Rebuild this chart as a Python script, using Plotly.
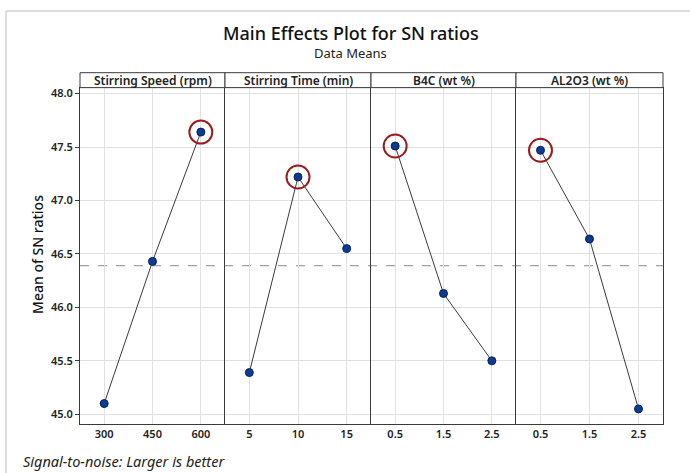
import plotly.graph_objects as go
from plotly.subplots import make_subplots

# ---- data ----
factor_names = ["Stirring Speed (rpm)", "Stirring Time (min)", "B4C (wt %)", "AL2O3 (wt %)"]
speed_levels = ["300", "450", "600"]
speed_sn = [45.10, 46.43, 47.64]
time_levels = ["5", "10", "15"]
time_sn = [45.39, 47.22, 46.55]
b4c_levels = ["0.5", "1.5", "2.5"]
b4c_sn = [47.51, 46.13, 45.50]
al2o3_levels = ["0.5", "1.5", "2.5"]
al2o3_sn = [47.47, 46.64, 45.05]
y_ticks = [45.0, 45.5, 46.0, 46.5, 47.0, 47.5, 48.0]

levels = [speed_levels, time_levels, b4c_levels, al2o3_levels]
values = [speed_sn, time_sn, b4c_sn, al2o3_sn]
grand_mean = sum(speed_sn) / len(speed_sn)

W, H = 690, 473
def px_x(p):
    return p / W
def px_y(p):
    return 1 - p / H

edges = [80, 225, 371, 516, 663]
ydom = [px_y(424), px_y(86)]
FONT = "Noto Sans"

fig = make_subplots(rows=1, cols=4, shared_yaxes=True, horizontal_spacing=0)

for i in range(4):
    xs = list(range(len(levels[i])))
    fig.add_trace(go.Scatter(
        x=xs, y=values[i], mode="lines+markers",
        line=dict(color="#3a3a3a", width=1),
        marker=dict(size=8, color="#0b3c91", line=dict(color="#0a1f5a", width=1)),
        showlegend=False, hoverinfo="skip"), row=1, col=i + 1)
    mi = max(range(len(values[i])), key=lambda k: values[i][k])
    fig.add_trace(go.Scatter(
        x=[xs[mi]], y=[values[i][mi]], mode="markers",
        marker=dict(size=23, symbol="circle-open", color="#9b1c1c", line=dict(color="#9b1c1c", width=2)),
        showlegend=False, hoverinfo="skip"), row=1, col=i + 1)

for i in range(4):
    xa = "xaxis" if i == 0 else f"xaxis{i+1}"
    ya = "yaxis" if i == 0 else f"yaxis{i+1}"
    fig.layout[xa].update(
        domain=[px_x(edges[i]), px_x(edges[i + 1])],
        range=[-0.5, 2.5], tickvals=[0, 1, 2], ticktext=levels[i],
        showgrid=True, gridcolor="#e1e1e1", gridwidth=1,
        showline=True, linecolor="#3a3a3a", linewidth=1, mirror=True,
        zeroline=False, ticks="", tickfont=dict(family=FONT, size=11, color="#222", weight=600),
        fixedrange=True)
    fig.layout[ya].update(
        domain=ydom, range=[44.907, 48.056], tickvals=y_ticks,
        tickformat=".1f", showgrid=True, gridcolor="#e1e1e1", gridwidth=1,
        showline=True, linecolor="#3a3a3a", linewidth=1, mirror=(i == 3),
        zeroline=False, fixedrange=True,
        ticks="outside" if i == 0 else "", ticklen=4, tickcolor="#3a3a3a",
        showticklabels=(i == 0),
        tickfont=dict(family=FONT, size=11, color="#222", weight=600))

shapes = []
# dashed grand mean line
shapes.append(dict(type="line", xref="paper", yref="y", x0=px_x(edges[0]), x1=px_x(edges[-1]),
                   y0=grand_mean, y1=grand_mean, line=dict(color="#8a8a8a", width=1, dash="dash"),
                   layer="below"))
# header boxes
for i in range(4):
    shapes.append(dict(type="rect", xref="paper", yref="paper",
                       x0=px_x(edges[i]), x1=px_x(edges[i + 1]), y0=px_y(86), y1=px_y(71),
                       line=dict(color="#3a3a3a", width=1), fillcolor="white"))
# outer frame lines
shapes.append(dict(type="line", xref="paper", yref="paper", x0=px_x(6), x1=1.0, y0=px_y(9), y1=px_y(9),
                   line=dict(color="#d2d2d2", width=1.5)))
shapes.append(dict(type="line", xref="paper", yref="paper", x0=px_x(6), x1=px_x(6), y0=0, y1=px_y(9),
                   line=dict(color="#d2d2d2", width=1.5)))

annotations = []
for i in range(4):
    annotations.append(dict(text=factor_names[i], xref="paper", yref="paper",
                            x=px_x((edges[i] + edges[i + 1]) / 2), y=px_y(78.5),
                            showarrow=False, xanchor="center", yanchor="middle",
                            font=dict(family=FONT, size=12, color="#222", weight=600)))
annotations.append(dict(text="Main Effects Plot for SN ratios", xref="paper", yref="paper",
                        x=px_x(351), y=px_y(31), showarrow=False, xanchor="center", yanchor="middle",
                        font=dict(family=FONT, size=18, color="#111", weight=500)))
annotations.append(dict(text="Data Means", xref="paper", yref="paper",
                        x=px_x(351), y=px_y(51), showarrow=False, xanchor="center", yanchor="middle",
                        font=dict(family=FONT, size=13, color="#222")))
annotations.append(dict(text="Mean of SN ratios", xref="paper", yref="paper",
                        x=px_x(38), y=px_y(254), showarrow=False, xanchor="center", yanchor="middle",
                        textangle=-90, font=dict(family=FONT, size=14, color="#111", weight=500)))
annotations.append(dict(text="<i>Signal-to-noise: Larger is better</i>", xref="paper", yref="paper",
                        x=px_x(21), y=px_y(461), showarrow=False, xanchor="left", yanchor="middle",
                        font=dict(family=FONT, size=14.5, color="#222")))

fig.update_layout(
    width=W, height=H, autosize=False,
    margin=dict(l=0, r=0, t=0, b=0),
    paper_bgcolor="white", plot_bgcolor="white",
    shapes=shapes, annotations=annotations,
    font=dict(family=FONT),
)

fig.write_html("out.html", post_script="document.body.style.margin='0';",
               config={"displayModeBar": False})
